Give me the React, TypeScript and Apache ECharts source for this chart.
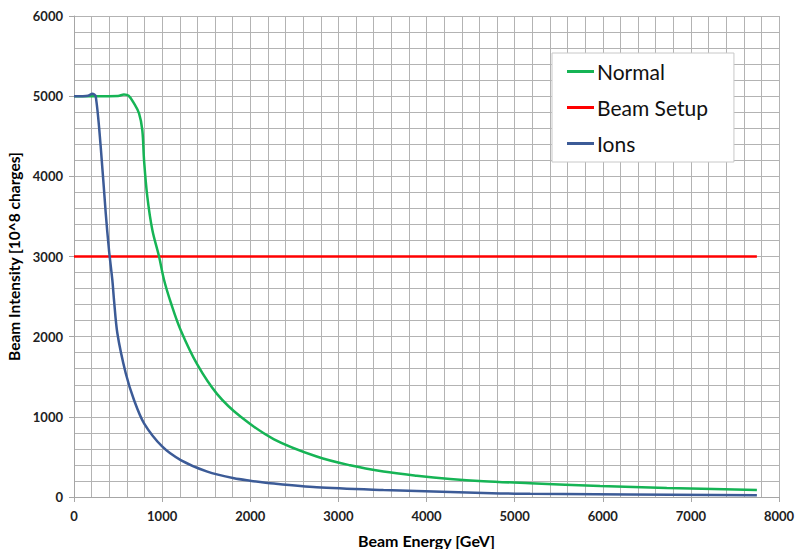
import React, { useEffect, useRef } from "react";
import * as echarts from "echarts";

const normalEnergy = [0, 200, 400, 500, 567, 620, 681, 738, 775, 795, 832, 889, 965, 1022, 1100, 1211, 1400, 1627, 1892, 2270, 2754, 3133, 3511, 3890, 4268, 4646, 5176, 5970, 6727, 7749];
const normalIntensity = [5000, 5000, 5000, 5002, 5020, 5005, 4910, 4786, 4578, 4200, 3746, 3330, 3000, 2707, 2420, 2080, 1650, 1280, 1000, 720, 505, 395, 318, 266, 226, 198, 172, 137, 112, 87];

const ionsEnergy = [0, 100, 160, 208, 246, 303, 360, 397, 435, 454, 492, 587, 681, 795, 1003, 1211, 1513, 1816, 1998, 2270, 2754, 3511, 4268, 4835, 5176, 7749];
const ionsIntensity = [5000, 5000, 5005, 5030, 5000, 4370, 3540, 3081, 2707, 2457, 2042, 1543, 1210, 919, 627, 461, 316, 233, 204, 168, 121, 87, 62, 45, 40, 21];

const setupEnergy = [0, 7749];
const setupIntensity = [3000, 3000];

const xTicks = { min: 0, max: 8000, interval: 1000 };
const yTicks = { min: 0, max: 6000, interval: 1000 };

const zip = (a: number[], b: number[]) => a.map((v, i) => [v, b[i]]);

export default function App() {
  const ref = useRef<HTMLDivElement>(null);
  useEffect(() => {
    if (!ref.current) return;
    const chart = echarts.init(ref.current, undefined, { renderer: "svg" });
    const font = "Lato, 'Open Sans', sans-serif";
    const gridColor = "#b3b3b3";
    const axisCommon = {
      axisLine: { show: true, lineStyle: { color: "#a6a6a6", width: 1 } },
      axisTick: { show: true, length: 5, lineStyle: { color: "#a6a6a6" } },
      splitLine: { show: true, lineStyle: { color: gridColor, width: 1 } },
      minorTick: { show: false, splitNumber: 5 },
      minorSplitLine: { show: true, lineStyle: { color: gridColor, width: 1 } },
      nameTextStyle: { fontFamily: font, fontWeight: "bold", fontSize: 16, color: "#000" },
    };
    chart.setOption({
      animation: false,
      backgroundColor: "#fff",
      grid: { left: 74, right: 17, top: 16, bottom: 52, containLabel: false, outerBoundsMode: "none" },
      xAxis: {
        type: "value",
        ...xTicks,
        ...axisCommon,
        name: "Beam Energy [GeV]",
        nameLocation: "middle",
        nameGap: 35,
        axisLabel: { fontFamily: font, fontWeight: "bold", fontSize: 13, color: "#222", margin: 12, formatter: (v: number) => String(v) },
      },
      yAxis: {
        type: "value",
        ...yTicks,
        ...axisCommon,
        name: "Beam Intensity [10^8 charges]",
        nameLocation: "middle",
        nameGap: 49,
        nameTextStyle: { fontFamily: font, fontWeight: "bold", fontSize: 15.5, color: "#000" },
        axisLabel: { fontFamily: font, fontWeight: "bold", fontSize: 13, color: "#222", margin: 11, formatter: (v: number) => String(v) },
      },
      legend: {
        orient: "vertical",
        left: 552,
        top: 53,
        padding: [8, 26, 8, 15],
        itemGap: 15,
        itemWidth: 27,
        itemHeight: 3,
        icon: "rect",
        backgroundColor: "#fff",
        borderColor: "#c8c8c8",
        borderWidth: 1,
        textStyle: { fontFamily: font, fontSize: 21, color: "#111", padding: [0, 0, 0, -2] },
        data: ["Normal", "Beam Setup", "Ions"],
      },
      series: [
        {
          name: "Normal",
          type: "line",
          data: zip(normalEnergy, normalIntensity),
          smooth: 0.35,
          showSymbol: false,
          symbol: "none",
          lineStyle: { color: "#16b455", width: 2.5 },
          itemStyle: { color: "#16b455" },
          z: 3,
        },
        {
          name: "Beam Setup",
          type: "line",
          data: zip(setupEnergy, setupIntensity),
          showSymbol: false,
          symbol: "none",
          lineStyle: { color: "#ff0000", width: 2.5 },
          itemStyle: { color: "#ff0000" },
          z: 2,
        },
        {
          name: "Ions",
          type: "line",
          data: zip(ionsEnergy, ionsIntensity),
          smooth: 0.3,
          showSymbol: false,
          symbol: "none",
          lineStyle: { color: "#3c5b97", width: 2.5 },
          itemStyle: { color: "#3c5b97" },
          z: 4,
        },
      ],
    });
    return () => chart.dispose();
  }, []);
  return <div ref={ref} style={{ width: 796, height: 549, position: "absolute", left: 0, top: 0 }} />;
}
